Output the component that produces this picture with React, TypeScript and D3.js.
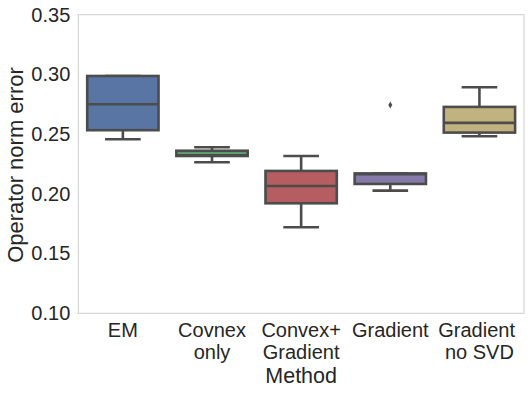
import React, { useEffect, useRef } from "react";
import * as d3 from "d3";

// category labels (one entry per line)
const methods = ["EM", "Covnex only", "Convex+ Gradient", "Gradient", "Gradient no SVD"];
const labelLines = [["EM"], ["Covnex", "only"], ["Convex+", "Gradient"], ["Gradient"], ["Gradient ", "no SVD"]];

// box stats
const lowerWhisker = [0.2457, 0.2265, 0.172, 0.2027, 0.2482];
const q1 = [0.2533, 0.2317, 0.1921, 0.2083, 0.2513];
const median = [0.275, 0.2322, 0.2066, 0.2165, 0.2594];
const q3 = [0.2987, 0.2361, 0.2192, 0.2171, 0.2728];
const upperWhisker = [0.2987, 0.239, 0.2317, 0.2171, 0.2893];
const outliers = [[], [], [], [0.2745], []];

const yTicks = [0.1, 0.15, 0.2, 0.25, 0.3, 0.35];
const colors = ["#5875a3", "#5f9e6e", "#b55d60", "#857aaa", "#c1b37f"];

const App = () => {
  const svgRef = useRef<SVGSVGElement>(null);

  useEffect(() => {
    const W = 531;
    const H = 393;
    const margin = { top: 14.7, right: 7, bottom: 79.7, left: 78.3 };
    const width = W - margin.left - margin.right;
    const height = H - margin.top - margin.bottom;
    const font = "'Liberation Sans', Arial, sans-serif";
    const lineColor = "#4c4c4c";
    const textColor = "#262626";

    const svg = d3.select(svgRef.current);
    svg.selectAll("*").remove();

    const g = svg.append("g").attr("transform", `translate(${margin.left},${margin.top})`);

    const x = d3.scaleBand().domain(methods).range([0, width]).padding(0);
    const y = d3.scaleLinear().domain([0.1, 0.35]).range([height, 0]);

    const boxW = x.bandwidth() * 0.8;

    // frame
    g.append("rect")
      .attr("width", width)
      .attr("height", height)
      .attr("fill", "white")
      .attr("stroke", "#cccccc")
      .attr("stroke-width", 1);

    // y axis
    const yAxis = g
      .append("g")
      .call(d3.axisLeft(y).tickValues(yTicks).tickSize(0).tickPadding(8).tickFormat(d3.format(".2f")));
    yAxis.select(".domain").remove();
    yAxis
      .selectAll("text")
      .attr("fill", textColor)
      .style("font-family", font)
      .style("font-size", "20px");

    // x tick labels
    methods.forEach((m, i) => {
      const cx = (x(m) as number) + x.bandwidth() / 2;
      const t = g
        .append("text")
        .attr("text-anchor", "middle")
        .attr("fill", textColor)
        .style("font-family", font)
        .style("font-size", "20px")
        .style("white-space", "pre");
      labelLines[i].forEach((line, j) => {
        t.append("tspan")
          .attr("x", cx)
          .attr("y", height + 23.9 + j * 21.7)
          .text(line);
      });
    });

    // x axis label
    g.append("text")
      .attr("x", width / 2)
      .attr("y", height + 69.5)
      .attr("text-anchor", "middle")
      .attr("fill", textColor)
      .style("font-family", font)
      .style("font-size", "21.5px")
      .text("Method");

    // y axis label
    g.append("text")
      .attr("transform", `translate(${-margin.left + 23},${height / 2 + 1}) rotate(-90)`)
      .attr("text-anchor", "middle")
      .attr("fill", textColor)
      .style("font-family", font)
      .style("font-size", "22px")
      .text("Operator norm error");

    // boxes
    methods.forEach((m, i) => {
      const cx = (x(m) as number) + x.bandwidth() / 2;
      const bg = g.append("g").attr("stroke", lineColor).attr("stroke-width", 2.6);

      // whiskers
      bg.append("line").attr("x1", cx).attr("x2", cx).attr("y1", y(q3[i])).attr("y2", y(upperWhisker[i]));
      bg.append("line").attr("x1", cx).attr("x2", cx).attr("y1", y(q1[i])).attr("y2", y(lowerWhisker[i]));
      // caps
      [upperWhisker[i], lowerWhisker[i]].forEach((v) => {
        bg.append("line")
          .attr("x1", cx - boxW / 4)
          .attr("x2", cx + boxW / 4)
          .attr("y1", y(v))
          .attr("y2", y(v));
      });
      // box
      bg.append("rect")
        .attr("x", cx - boxW / 2)
        .attr("width", boxW)
        .attr("y", y(q3[i]))
        .attr("height", y(q1[i]) - y(q3[i]))
        .attr("fill", colors[i]);
      // median
      bg.append("line")
        .attr("x1", cx - boxW / 2)
        .attr("x2", cx + boxW / 2)
        .attr("y1", y(median[i]))
        .attr("y2", y(median[i]));
      // outliers
      outliers[i].forEach((v) => {
        const oy = y(v);
        bg.append("path")
          .attr("d", `M${cx},${oy - 3.5}L${cx + 2},${oy}L${cx},${oy + 3.5}L${cx - 2},${oy}Z`)
          .attr("fill", lineColor)
          .attr("stroke", "none");
      });
    });
  }, []);

  return (
    <svg
      ref={svgRef}
      width={531}
      height={393}
      style={{ position: "absolute", left: 0, top: 0, background: "white" }}
    />
  );
};

export default App;
